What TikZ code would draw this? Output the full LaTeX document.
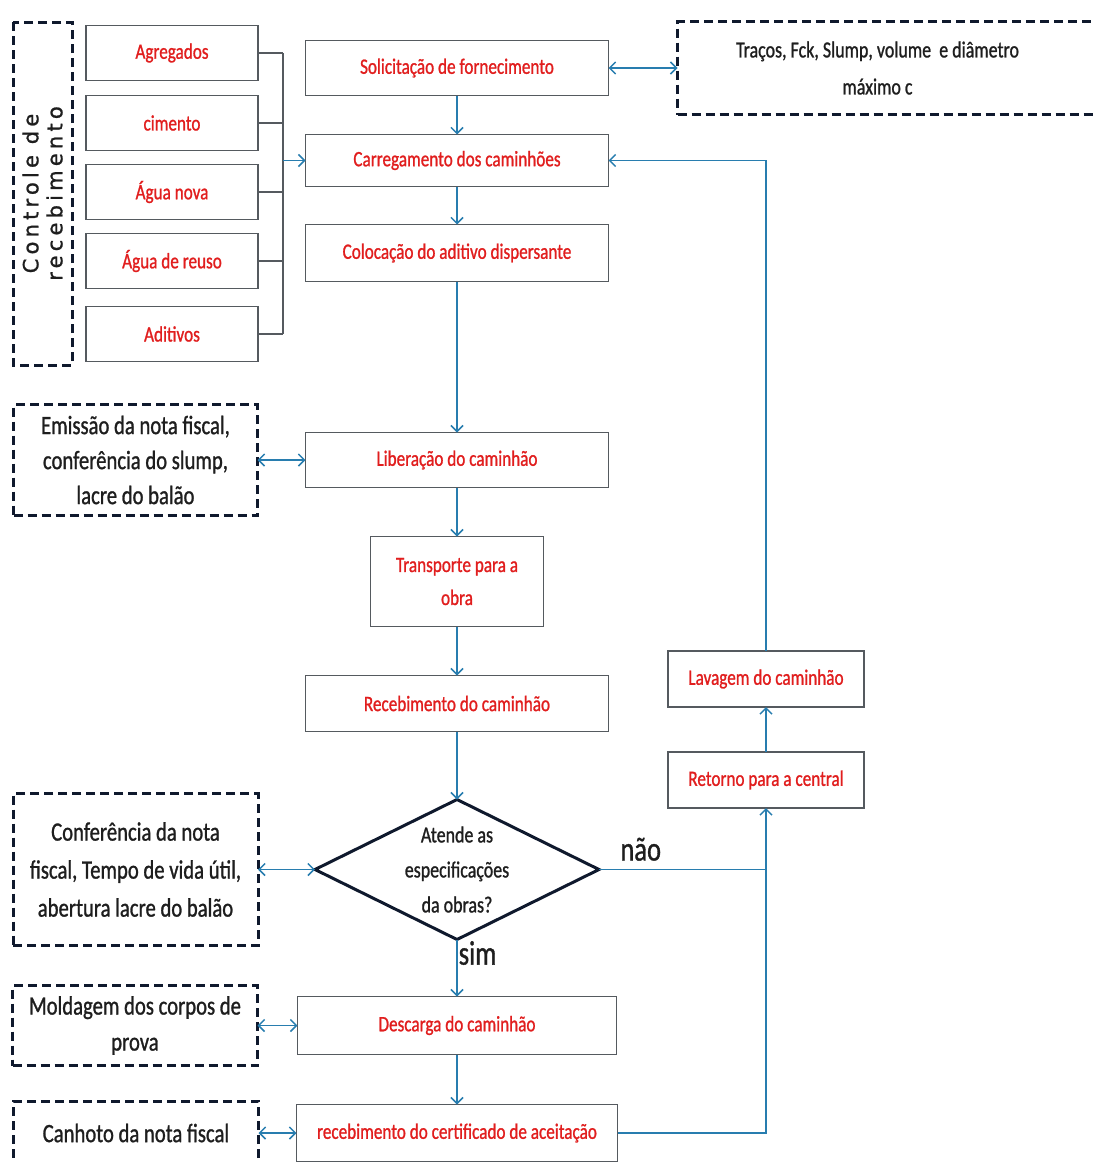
\documentclass[tikz,border=0pt]{standalone}
\usepackage{fontspec}
\setmainfont{Carlito}[FakeStretch=0.78,FakeBold=1]
\newfontfamily\verfont{DejaVu Sans}[LetterSpace=20,FakeBold=1]
\usetikzlibrary{positioning}
\usetikzlibrary{shapes.geometric}
\usetikzlibrary{arrows.meta}
\definecolor{linha}{RGB}{40,125,175}
\definecolor{borda}{RGB}{85,90,95}
\definecolor{tracejado}{RGB}{15,25,45}
\definecolor{vermelho}{RGB}{225,30,30}
\definecolor{preto}{RGB}{30,30,30}

\begin{document}
\begin{tikzpicture}[x=1pt,y=-1pt]
\tikzset{basic/.style={draw=borda,line width=1.6pt,fill=white,inner sep=2pt,outer sep=0pt,align=center}}
\tikzset{proc/.style={basic,text=vermelho,font=\fontsize{22}{33}\selectfont,minimum width=303pt,minimum height=55pt}}
\tikzset{mat/.style={proc,minimum width=172pt}}
\tikzset{nota/.style={draw=tracejado,line width=3pt,dash pattern=on 9pt off 5pt,fill=white,text=preto,align=center,font=\fontsize{26.5}{36}\selectfont,inner sep=0pt,outer sep=0pt}}
\tikzset{decisao/.style={diamond,aspect=2,draw=tracejado,line width=3pt,fill=white,text=preto,align=center,font=\fontsize{23}{35}\selectfont,minimum width=284pt,minimum height=140pt,inner sep=0pt,outer sep=0pt}}
\tikzset{fluxo/.style={draw=linha,line width=1.5pt,-{Straight Barb[length=6pt,width=12pt]}}}
\tikzset{duplo/.style={draw=linha,line width=1.5pt,{Straight Barb[length=6pt,width=12pt]}-{Straight Barb[length=6pt,width=12pt]}}}
\tikzset{ligacao/.style={draw=borda,line width=1.5pt}}
\tikzset{rotulo/.style={text=preto,font=\fontsize{34}{34}\selectfont,inner sep=2pt}}
\clip (0,0) rectangle (1093,1162);
% coluna central
\node[proc] (solic) at (457,68) {Solicitação de fornecimento};
\node[proc,below=39pt of solic,minimum height=52pt] (carreg) {Carregamento dos caminhões};
\node[proc,below=38pt of carreg,minimum height=57pt] (coloc) {Colocação do aditivo dispersante};
\node[proc,below=151pt of coloc] (liber) {Liberação do caminhão};
\node[proc,below=49pt of liber,minimum width=173pt,minimum height=90pt] (transp) {Transporte para a\\obra};
\node[proc,below=49pt of transp,minimum height=56pt] (receb) {Recebimento do caminhão};
\node[decisao,below=68pt of receb] (decide) {Atende as\\especificações\\da obras?};
\node[proc,below=57pt of decide,minimum width=319pt,minimum height=58pt] (desc) {Descarga do caminhão};
\node[proc,below=50pt of desc,minimum width=321pt,minimum height=57pt] (cert) {recebimento do certificado de aceitação};
% retorno
\node[proc,minimum width=196pt,minimum height=56pt] (lavagem) at (766,679) {Lavagem do caminhão};
\node[proc,below=45pt of lavagem,minimum width=196pt,minimum height=56pt] (retorno) {Retorno para a central};
% materiais
\node[nota,rotate=90,minimum width=343pt,minimum height=59pt,font=\verfont\fontsize{21}{24}\selectfont] (controle) at (42.5,193.5) {Controle de\\recebimento};
\node[mat] (agreg) at (172,53) {Agregados};
\node[mat,below=15pt of agreg] (cimento) {cimento};
\node[mat,below=14pt of cimento] (aguanova) {Água nova};
\node[mat,below=14pt of aguanova] (reuso) {Água de reuso};
\node[mat,below=18pt of reuso] (adit) {Aditivos};
% notas
\node[nota,right=69pt of solic,minimum width=440pt,minimum height=93pt,font=\fontsize{23}{37}\selectfont] (tracos) {Traços, Fck, Slump, volume \ e diâmetro\hspace*{40pt}\\máximo c\hspace*{40pt}};
\node[nota,left=48pt of liber,minimum width=244pt,minimum height=111pt,font=\fontsize{26.5}{35}\selectfont] (emissao) {Emissão da nota fiscal,\\conferência do slump,\\lacre do balão};
\node[nota,left=57pt of decide,minimum width=245pt,minimum height=152pt,font=\fontsize{26.5}{38}\selectfont] (confer) {Conferência da nota\\fiscal, Tempo de vida útil,\\abertura lacre do balão};
\node[nota,left=40pt of desc,minimum width=245pt,minimum height=80pt] (molda) {Moldagem dos corpos de\\prova};
\node[nota,left=38pt of cert,minimum width=245pt,minimum height=64pt] (canhoto) {Canhoto da nota fiscal};
% ligacoes
\coordinate (bus) at (283,0);
\foreach \m in {agreg,cimento,aguanova,reuso,adit}
    \draw[ligacao] (\m.east) -- (\m.east -| bus);
\draw[ligacao] (agreg.east -| bus) -- (adit.east -| bus);
\draw[fluxo] (carreg.west -| bus) -- (carreg.west);
\draw[fluxo] (solic) -- (carreg);
\draw[fluxo] (carreg) -- (coloc);
\draw[fluxo] (coloc) -- (liber);
\draw[fluxo] (liber) -- (transp);
\draw[fluxo] (transp) -- (receb);
\draw[fluxo] (receb) -- (decide);
\draw[fluxo] (decide) -- node[rotulo,below right,pos=0,inner sep=1pt]{sim} (desc);
\draw[fluxo] (desc) -- (cert);
\draw[duplo] (solic) -- (tracos);
\draw[duplo] (emissao) -- (liber);
\draw[duplo] (confer) -- (decide);
\draw[duplo] (molda) -- (desc);
\draw[duplo] (canhoto) -- (cert);
\draw[draw=linha,line width=1.5pt] (decide.east) -- node[rotulo,above,pos=0.25,yshift=6pt]{não} (decide.east -| retorno.south);
\draw[fluxo] (cert.east) -| (retorno.south);
\draw[fluxo] (retorno) -- (lavagem);
\draw[fluxo] (lavagem.north) |- (carreg.east);
\end{tikzpicture}
\end{document}
